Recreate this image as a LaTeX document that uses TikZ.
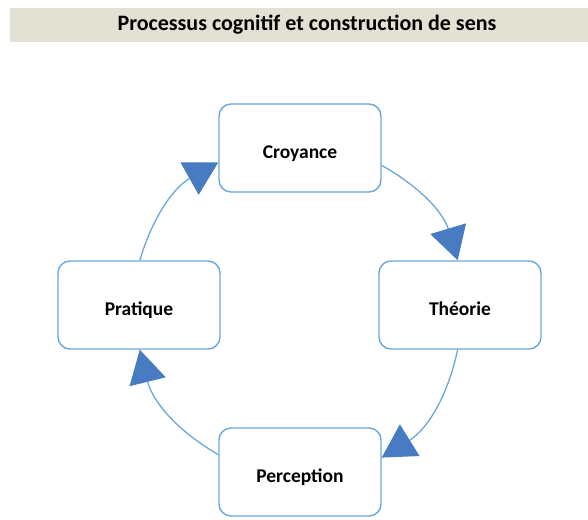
\documentclass[tikz,border=0pt]{standalone}
\usepackage{fontspec}
\setmainfont{Carlito}
\usetikzlibrary{arrows.meta, positioning}
\definecolor{bandbeige}{RGB}{227,225,211}
\definecolor{lineblue}{RGB}{108,166,220}
\definecolor{tipblue}{RGB}{72,124,194}

\begin{document}
\begin{tikzpicture}[x=1pt, y=-1pt, every node/.style={font=\bfseries\fontsize{19.5}{23}\selectfont}]
  % styles
  \tikzstyle{titlebar}=[rectangle, fill=bandbeige, minimum width=594pt, minimum height=34pt, inner sep=0pt, font=\bfseries\fontsize{22}{26}\selectfont]
  \tikzstyle{stage}=[rectangle, rounded corners=12pt, minimum width=162pt, minimum height=88pt, text height=20pt, text depth=0pt, align=center, draw=lineblue, line width=1.4pt, fill=white]
  \tikzstyle{arrow}=[lineblue, line width=1.3pt, -{Triangle[length=33pt, width=37pt, color=tipblue]}]

  \useasboundingbox (0,0) rectangle (588,519);

  % nodes
  \node (title) [titlebar] at (307,25) {Processus cognitif et construction de sens};
  \node (cro) [stage] at (300,148) {Croyance};
  \node (the) [stage] at (460,305) {Théorie};
  \node (pra) [stage] at (139,305) {Pratique};
  \node (per) [stage] at (300,472) {Perception};

  % arrows
  \draw[arrow] (cro.-12) to[bend left=22] (the.93);
  \draw[arrow] (the.-93) to[bend left=23] (per.10);
  \draw[arrow] (per.168) to[bend left=23] (pra.-89);
  \draw[arrow] (pra.89) to[bend left=22] (cro.190);
\end{tikzpicture}
\end{document}
